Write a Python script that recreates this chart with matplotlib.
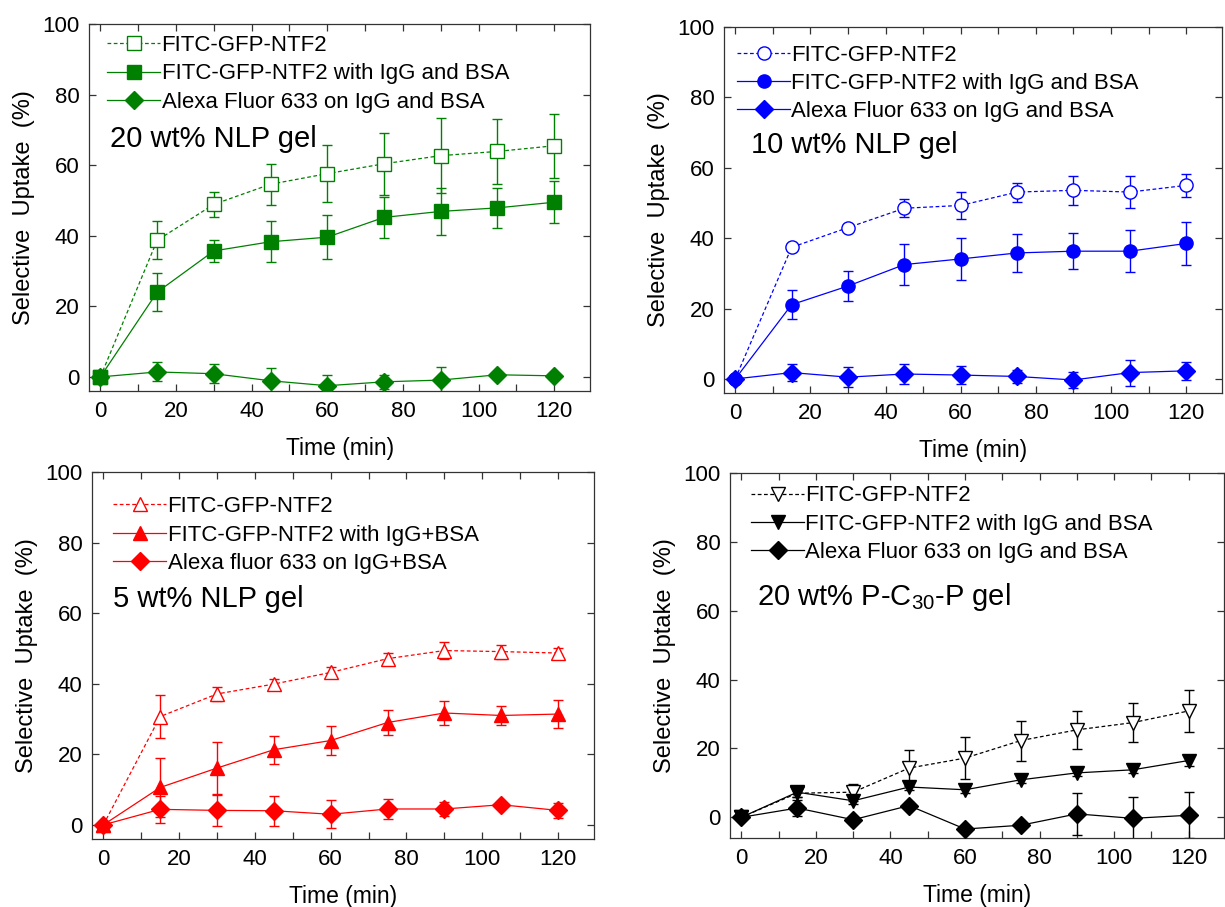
import matplotlib
matplotlib.use('Agg')
import matplotlib.pyplot as plt
from matplotlib.ticker import MultipleLocator

plt.rcParams['font.family'] = ['Liberation Sans', 'DejaVu Sans']

time = [0, 15, 30, 45, 60, 75, 90, 105, 120]

# 20 wt% NLP gel
nlp20_free = [0, 38.7, 48.9, 54.6, 57.6, 60.4, 62.7, 63.9, 65.5]
nlp20_free_err = [0, 5.4, 3.6, 5.8, 8.0, 8.8, 10.6, 9.3, 9.0]
nlp20_mix = [0, 24.0, 35.7, 38.3, 39.6, 45.2, 46.9, 47.9, 49.5]
nlp20_mix_err = [0, 5.4, 3.2, 5.8, 6.3, 5.8, 6.6, 5.6, 5.9]
nlp20_alexa = [0, 1.4, 0.9, -1.1, -2.5, -1.4, -0.9, 0.6, 0.3]
nlp20_alexa_err = [0, 2.7, 2.7, 3.5, 3.0, 2.0, 3.7, 0.5, 0.5]

# 10 wt% NLP gel
nlp10_free = [0, 37.4, 43.0, 48.5, 49.3, 53.1, 53.6, 53.1, 55.0]
nlp10_free_err = [0, 0.8, 1.0, 2.6, 3.9, 2.7, 4.2, 4.6, 3.2]
nlp10_mix = [0, 21.1, 26.4, 32.5, 34.1, 35.8, 36.3, 36.3, 38.5]
nlp10_mix_err = [0, 4.2, 4.2, 5.9, 6.0, 5.4, 5.1, 6.0, 6.0]
nlp10_alexa = [0, 1.8, 0.5, 1.4, 1.1, 0.7, -0.3, 1.8, 2.3]
nlp10_alexa_err = [0, 2.4, 2.8, 2.7, 2.5, 1.8, 2.2, 3.7, 2.5]

# 5 wt% NLP gel
nlp5_free = [0, 30.7, 37.1, 39.9, 43.2, 47.1, 49.4, 49.1, 48.7]
nlp5_free_err = [0, 6.0, 2.0, 1.5, 1.5, 1.5, 2.3, 2.0, 1.5]
nlp5_mix = [0, 10.6, 16.1, 21.3, 23.9, 29.0, 31.7, 31.0, 31.4]
nlp5_mix_err = [0, 8.3, 7.3, 4.0, 4.1, 3.6, 3.4, 2.6, 4.0]
nlp5_alexa = [0, 4.4, 4.1, 4.0, 3.0, 4.5, 4.5, 5.7, 4.1]
nlp5_alexa_err = [0, 3.9, 4.3, 4.3, 4.0, 2.7, 2.0, 0.5, 2.2]

# 20 wt% P-C30-P gel
pc30_free = [0, 7.0, 7.3, 14.3, 17.2, 22.3, 25.4, 27.5, 30.9]
pc30_free_err = [0, 1.0, 2.5, 5.3, 6.0, 5.8, 5.5, 5.6, 6.0]
pc30_mix = [0, 7.3, 4.8, 8.8, 8.0, 10.9, 12.9, 13.8, 16.5]
pc30_mix_err = [0, 1.5, 0.8, 0.8, 0.8, 0.8, 1.0, 0.8, 1.5]
pc30_alexa = [0, 2.7, -0.7, 3.4, -3.4, -2.3, 1.0, -0.3, 0.6]
pc30_alexa_err = [0, 2.2, 0.8, 1.0, 0.5, 0.5, 6.0, 6.2, 6.7]

labels_and = ['FITC-GFP-NTF2', 'FITC-GFP-NTF2 with IgG and BSA', 'Alexa Fluor 633 on IgG and BSA']
labels_plus = ['FITC-GFP-NTF2', 'FITC-GFP-NTF2 with IgG+BSA', 'Alexa fluor 633 on IgG+BSA']


def draw_panel(ax, color, markers, series, errs, labels, note, note_pos, leg_pos, ymin):
    styles = ['--', '-', '-']
    sizes = [9.5, 9.5, 9]
    handles = []
    for i in range(3):
        ax.errorbar(time, series[i], yerr=errs[i], fmt='none', ecolor=color,
                    elinewidth=1.0, capsize=3.6, capthick=1.0, zorder=2)
        face = 'white' if i == 0 else color
        line, = ax.plot(time, series[i], linestyle=styles[i], color=color, lw=0.9,
                        marker=markers[i], markersize=sizes[i], markerfacecolor=face,
                        markeredgecolor=color, markeredgewidth=1.0, label=labels[i],
                        zorder=3 + i, dashes=(3, 2) if i == 0 else (None, None))
        handles.append(line)

    ax.set_xlim(-3, 129.5)
    ax.set_ylim(ymin, 100)
    ax.xaxis.set_major_locator(MultipleLocator(20))
    ax.xaxis.set_minor_locator(MultipleLocator(10))
    ax.yaxis.set_major_locator(MultipleLocator(20))
    ax.tick_params(which='both', direction='in', top=True, right=True,
                   color='#333333', width=0.9)
    ax.tick_params(which='major', length=5, labelsize=16, pad=7)
    ax.tick_params(which='minor', length=5)
    ax.tick_params(axis='y', pad=7)
    for sp in ax.spines.values():
        sp.set_color('#333333')
        sp.set_linewidth(0.9)

    ax.set_xlabel('Time (min)', fontsize=16.5, labelpad=11)
    ax.set_ylabel('Selective  Uptake  (%)', fontsize=17, labelpad=5)

    ax.legend(handles=handles, loc='upper left', bbox_to_anchor=leg_pos, frameon=False,
              fontsize=16, handlelength=2.4, handletextpad=0.05, labelspacing=0.33,
              borderaxespad=0, borderpad=0, numpoints=1)
    ax.text(note_pos[0], note_pos[1], note, transform=ax.transAxes, fontsize=21,
            ha='left', va='baseline')


fig = plt.figure(figsize=(12.25, 9.07), dpi=100)

ax1 = fig.add_axes([0.0727, 0.5689, 0.409, 0.4046])
ax2 = fig.add_axes([0.591, 0.5667, 0.4065, 0.4035])
ax3 = fig.add_axes([0.0751, 0.075, 0.4098, 0.4046])
ax4 = fig.add_axes([0.596, 0.0761, 0.4033, 0.4024])

draw_panel(ax1, '#008000', ['s', 's', 'D'],
           [nlp20_free, nlp20_mix, nlp20_alexa],
           [nlp20_free_err, nlp20_mix_err, nlp20_alexa_err],
           labels_and, '20 wt% NLP gel', (0.042, 0.666), (0.036, 0.97), -4)

draw_panel(ax2, '#0000FF', ['o', 'o', 'D'],
           [nlp10_free, nlp10_mix, nlp10_alexa],
           [nlp10_free_err, nlp10_mix_err, nlp10_alexa_err],
           labels_and, '10 wt% NLP gel', (0.054, 0.656), (0.026, 0.952), -4)

draw_panel(ax3, '#FF0000', ['^', '^', 'D'],
           [nlp5_free, nlp5_mix, nlp5_alexa],
           [nlp5_free_err, nlp5_mix_err, nlp5_alexa_err],
           labels_plus, '5 wt% NLP gel', (0.042, 0.632), (0.042, 0.934), -4)

draw_panel(ax4, '#000000', ['v', 'v', 'D'],
           [pc30_free, pc30_mix, pc30_alexa],
           [pc30_free_err, pc30_mix_err, pc30_alexa_err],
           labels_and, r'20 wt% P-C$_{\mathregular{30}}$-P gel', (0.055, 0.638), (0.042, 0.966), -6)

fig.savefig('out.png', dpi=100)
